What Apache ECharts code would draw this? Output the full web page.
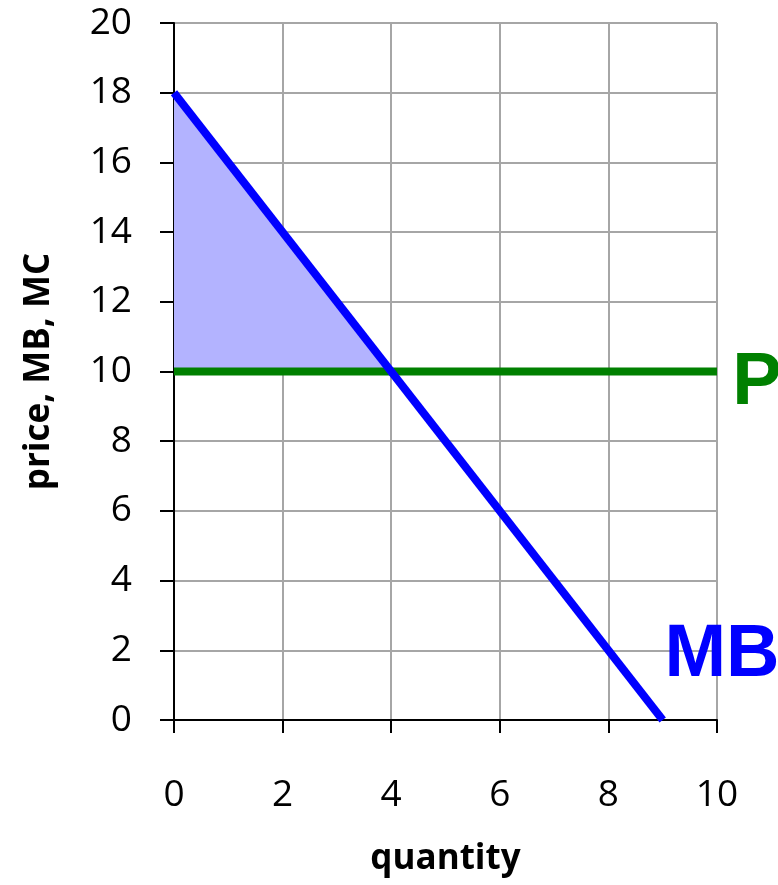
<!DOCTYPE html>
<html>
<head>
<meta charset="utf-8">
<script src="https://cdn.jsdelivr.net/npm/echarts@6/dist/echarts.min.js"></script>
<style>
  html, body { margin: 0; padding: 0; background: #fff; }
  #chart { width: 778px; height: 885px; }
</style>
</head>
<body>
<div id="chart"></div>
<script>
// Marginal benefit curve and market price
const quantityTicks = [0, 2, 4, 6, 8, 10];
const priceTicks = [0, 2, 4, 6, 8, 10, 12, 14, 16, 18, 20];
const mbPoints = [[0, 18], [9, 0]];          // MB = 18 - 2q
const pricePoints = [[0, 10], [10, 10]];     // P = 10
const surplusPoints = [[0, 18], [4, 10], [0, 10]]; // area between MB and P
const curveLabels = [
  { text: 'P', at: [10, 10], color: '#008000', dx: 40, dy: 12 },
  { text: 'MB', at: [10, 2], color: '#0000ff', dx: 5, dy: 5 }
];

const FONT = '"Open Sans", "Noto Sans", sans-serif';
const LABEL_FONT = '"Liberation Sans", Arial, sans-serif';

const chart = echarts.init(document.getElementById('chart'), null, { renderer: 'canvas' });

const option = {
  animation: false,
  backgroundColor: '#ffffff',
  grid: { left: 174, right: 61, top: 23, bottom: 165, containLabel: false },
  xAxis: {
    type: 'value',
    min: quantityTicks[0],
    max: quantityTicks[quantityTicks.length - 1],
    interval: 2,
    name: 'quantity',
    nameLocation: 'middle',
    nameGap: 122,
    nameTextStyle: { fontFamily: FONT, fontWeight: 'bold', fontSize: 35, color: '#000' },
    axisLine: { show: true, onZero: false, lineStyle: { color: '#000', width: 2 } },
    axisTick: { show: true, inside: false, length: 13, lineStyle: { color: '#000', width: 2 } },
    axisLabel: { margin: 57, fontFamily: FONT, fontSize: 37, color: '#000' },
    splitLine: { show: true, lineStyle: { color: '#a6a6a6', width: 2 } }
  },
  yAxis: {
    type: 'value',
    min: priceTicks[0],
    max: priceTicks[priceTicks.length - 1],
    interval: 2,
    name: 'price, MB, MC',
    nameLocation: 'middle',
    nameGap: 117,
    nameTextStyle: { fontFamily: FONT, fontWeight: 'bold', fontSize: 35, color: '#000' },
    axisLine: { show: true, onZero: false, lineStyle: { color: '#000', width: 2 } },
    axisTick: { show: true, inside: false, length: 14, lineStyle: { color: '#000', width: 2 } },
    axisLabel: { margin: 42, fontFamily: FONT, fontSize: 37, color: '#000' },
    splitLine: { show: true, lineStyle: { color: '#a6a6a6', width: 2 } }
  },
  series: [
    {
      name: 'surplus',
      type: 'custom',
      data: [0],
      z: 1,
      renderItem: function (params, api) {
        const pts = surplusPoints.map(p => api.coord(p));
        return {
          type: 'polygon',
          shape: { points: pts },
          style: { fill: '#b3b3ff', stroke: null }
        };
      },
      silent: true
    },
    {
      name: 'P',
      type: 'line',
      data: pricePoints,
      z: 3,
      symbol: 'none',
      lineStyle: { color: '#008000', width: 8, cap: 'butt' }
    },
    {
      name: 'MB',
      type: 'line',
      data: mbPoints,
      z: 4,
      symbol: 'none',
      lineStyle: { color: '#0000ff', width: 8 }
    }
  ]
};

chart.setOption(option);

// Curve labels, positioned through the chart's coordinate system
chart.setOption({
  graphic: curveLabels.map(function (l) {
    const px = chart.convertToPixel({ gridIndex: 0 }, l.at);
    return {
      type: 'text',
      x: px[0] + l.dx,
      y: px[1] + l.dy,
      style: {
        text: l.text,
        fontFamily: LABEL_FONT,
        fontWeight: 'bold',
        fontSize: 74,
        fill: l.color,
        align: 'center',
        verticalAlign: 'middle'
      }
    };
  })
});
</script>
</body>
</html>
